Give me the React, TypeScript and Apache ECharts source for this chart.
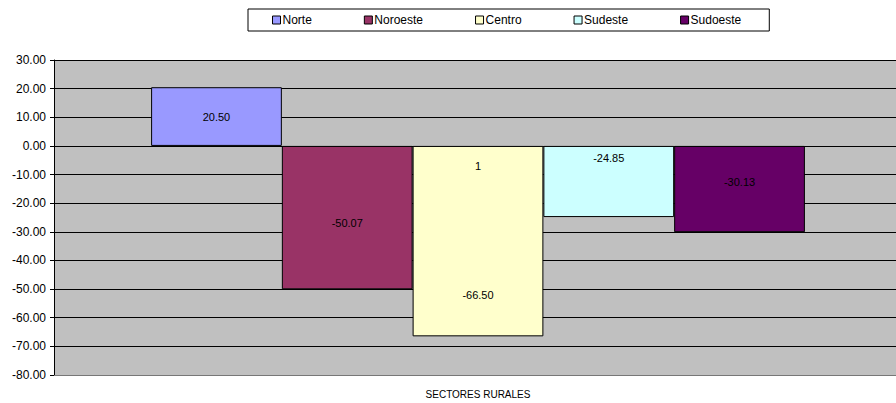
import React, { useEffect, useRef } from "react";
import * as echarts from "echarts";

const categories = ["SECTORES RURALES"];
const seriesNames = ["Norte", "Noroeste", "Centro", "Sudeste", "Sudoeste"];
const seriesValues = [20.5, -50.07, -66.5, -24.85, -30.13];
const seriesColors = ["#9999FF", "#993366", "#FFFFCC", "#CCFFFF", "#660066"];
const labelOffsets = [0, 5, 54, -23, -7];
const extraNote = { series: "Centro", text: "1", value: -7 };

const FONT = "Liberation Sans";

export default function App() {
  const ref = useRef<HTMLDivElement>(null);
  useEffect(() => {
    if (!ref.current) return;
    const chart = echarts.init(ref.current, undefined, { renderer: "svg" });
    const series = seriesNames.map((name, i) => {
      const s: any = {
        name,
        type: "bar",
        data: [seriesValues[i]],
        barGap: "0%",
        barCategoryGap: "22.9%",
        itemStyle: { color: seriesColors[i], borderColor: "#000", borderWidth: 1 },
        label: {
          show: true,
          position: "inside",
          offset: [0, labelOffsets[i]],
          color: "#000",
          fontFamily: FONT,
          fontSize: 11,
          formatter: (p: any) => Number(p.value).toFixed(2),
        },
      };
      if (name === extraNote.series) {
        s.markPoint = {
          symbol: "rect",
          symbolSize: 1,
          itemStyle: { color: "transparent" },
          label: {
            show: true,
            position: "inside",
            color: "#000",
            fontFamily: FONT,
            fontSize: 11,
            formatter: extraNote.text,
          },
          data: [{ coord: [categories[0], extraNote.value] }],
        };
      }
      return s;
    });
    chart.setOption({
      animation: false,
      textStyle: { fontFamily: FONT },
      legend: {
        data: seriesNames,
        left: 248,
        top: 9,
        icon: "rect",
        itemWidth: 8,
        itemHeight: 8,
        itemGap: 52,
        padding: [5, 28, 5, 24],
        borderColor: "#000",
        borderWidth: 1,
        itemStyle: { borderColor: "#000", borderWidth: 1 },
        textStyle: { fontFamily: FONT, fontSize: 12, color: "#000", padding: [0, 0, 0, -3] },
      },
      grid: {
        left: 54,
        right: 0,
        top: 60,
        bottom: 28,
        show: true,
        backgroundColor: "#C0C0C0",
        borderWidth: 0,
      },
      xAxis: {
        type: "category",
        data: categories,
        axisLine: { onZero: false, lineStyle: { color: "#777", width: 1 } },
        axisTick: { show: false },
        axisLabel: { color: "#000", fontFamily: FONT, fontSize: 10, margin: 14 },
      },
      yAxis: {
        type: "value",
        min: -80,
        max: 30,
        interval: 10,
        axisLine: { show: true, lineStyle: { color: "#000", width: 1 } },
        axisTick: { show: true, length: 4, lineStyle: { color: "#000" } },
        splitLine: { show: true, lineStyle: { color: "#000", width: 1 } },
        axisLabel: {
          color: "#000",
          fontFamily: FONT,
          fontSize: 12,
          margin: 8,
          formatter: (v: number) => v.toFixed(2),
        },
      },
      series,
    });
    return () => chart.dispose();
  }, []);
  return (
    <div style={{ width: 896, height: 403, position: "absolute", left: 0, top: 0, overflow: "hidden" }}>
      <div ref={ref} style={{ width: 902, height: 403 }} />
    </div>
  );
}
